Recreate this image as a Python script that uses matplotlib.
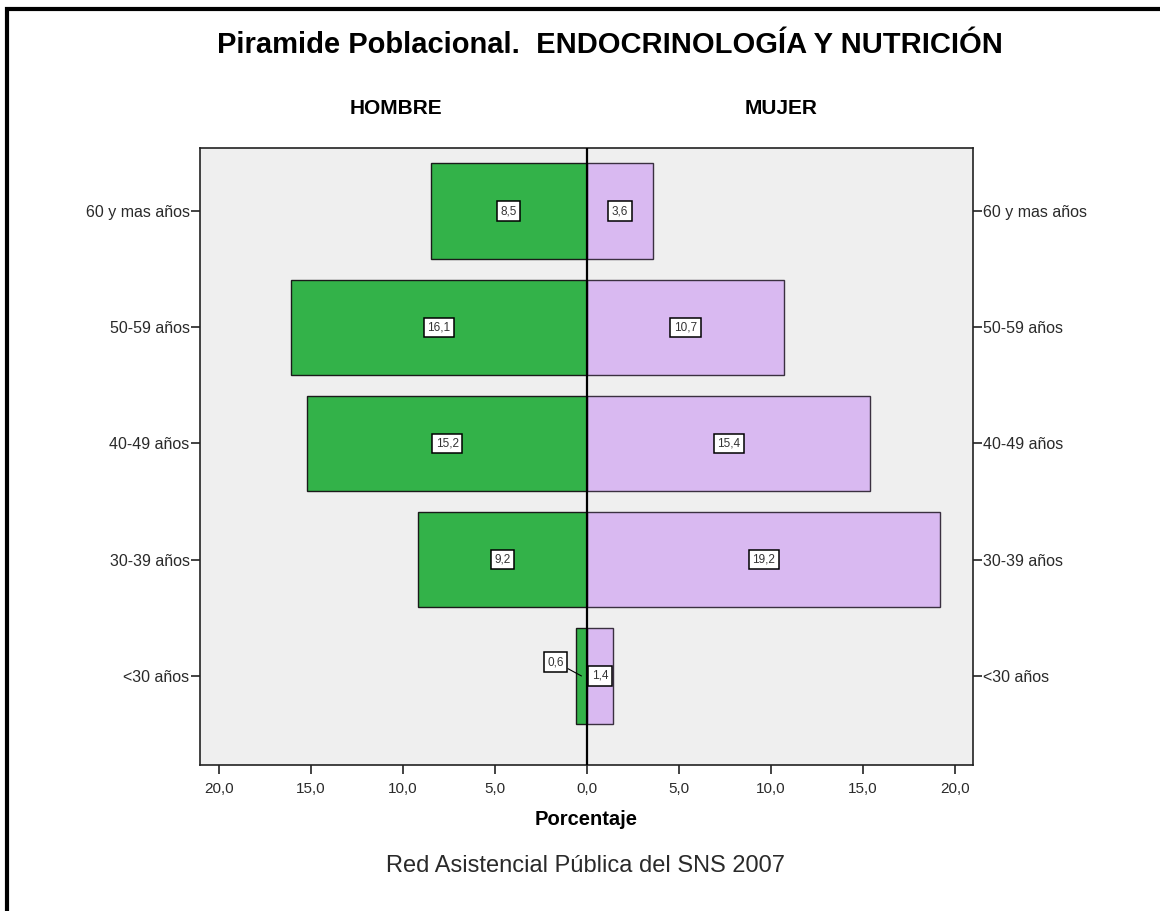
import numpy as np
import matplotlib.pyplot as plt
from matplotlib.patches import Rectangle

plt.rcParams['font.family'] = ['Liberation Sans', 'DejaVu Sans']

# Datos de la piramide (porcentaje por sexo y grupo de edad)
grupos = ['<30 años', '30-39 años', '40-49 años', '50-59 años', '60 y mas años']
hombre = [0.6, 9.2, 15.2, 16.1, 8.5]
mujer = [1.4, 19.2, 15.4, 10.7, 3.6]
ticks_x = [-20, -15, -10, -5, 0, 5, 10, 15, 20]


def coma(v):
    return f"{abs(v):.1f}".replace('.', ',')


W, H = 1160, 911
fig = plt.figure(figsize=(W / 100, H / 100), dpi=100)
ax = fig.add_axes([200 / W, (H - 765) / H, 773 / W, 617 / H])
ax.set_facecolor('#efefef')

y = np.arange(len(grupos))
alto = 0.82
ax.barh(y, [-v for v in hombre], height=alto, color='#33b249',
        edgecolor='#1a1a1a', linewidth=1.0, zorder=2)
ax.barh(y, mujer, height=alto, color='#d9b9f1',
        edgecolor='#3a3040', linewidth=1.0, zorder=2)
ax.axvline(0, color='black', linewidth=1.6, zorder=3)

caja = dict(boxstyle='square,pad=0.3', facecolor='white',
            edgecolor='black', linewidth=1.1)
for i, (h, m) in enumerate(zip(hombre, mujer)):
    if h < 1:
        # barra muy estrecha: etiqueta fuera con linea guia
        ax.annotate(coma(h), xy=(-h / 2, y[i]), xytext=(-1.7, y[i] + 0.12),
                    ha='center', va='center', fontsize=8.5, bbox=caja,
                    color='#333333', zorder=4,
                    arrowprops=dict(arrowstyle='-', color='black', lw=0.8,
                                    shrinkA=0, shrinkB=0))
    else:
        ax.text(-h / 2, y[i], coma(h), ha='center', va='center',
                fontsize=8.5, bbox=caja, color='#333333', zorder=4)
    ax.text(m / 2 if m >= 1 else 0.6, y[i], coma(m), ha='center', va='center',
            fontsize=8.5, bbox=caja, color='#333333', zorder=4)

ax.set_xlim(-21.03, 20.98)
ax.set_ylim(-0.766, 4.542)
ax.set_xticks(ticks_x)
ax.set_xticklabels([coma(t) for t in ticks_x], fontsize=11)
ax.set_yticks(y)
ax.set_yticklabels(grupos, fontsize=11.5)
ax.tick_params(axis='both', direction='out', length=6.5, width=1.2,
               color='#222222', labelcolor='#2a2a2a')
ax.tick_params(axis='x', pad=6)
ax.tick_params(axis='y', right=True, labelright=True, pad=1)
for s in ax.spines.values():
    s.set_linewidth(1.2)
    s.set_color('#222222')

ax.set_xlabel('Porcentaje', fontsize=14.5, fontweight='bold', labelpad=10)

fig.text(610 / W, 1 - 45 / H, 'Piramide Poblacional.  ENDOCRINOLOGÍA Y NUTRICIÓN',
         ha='center', va='center', fontsize=21, fontweight='bold')
fig.text(396 / W, 1 - 108 / H, 'HOMBRE', ha='center', va='center',
         fontsize=15, fontweight='bold')
fig.text(781 / W, 1 - 108 / H, 'MUJER', ha='center', va='center',
         fontsize=15, fontweight='bold')
fig.text(586 / W, 1 - 866 / H, 'Red Asistencial Pública del SNS 2007',
         ha='center', va='center', fontsize=17, color='#2a2a2a')

# Marco exterior de la figura
fig.patches.append(Rectangle((7 / W, -0.1), 1.2, 1 - 9 / H + 0.1,
                             transform=fig.transFigure, fill=False,
                             edgecolor='black', linewidth=3, clip_on=False))

fig.savefig('out.png', dpi=100, facecolor='white')
